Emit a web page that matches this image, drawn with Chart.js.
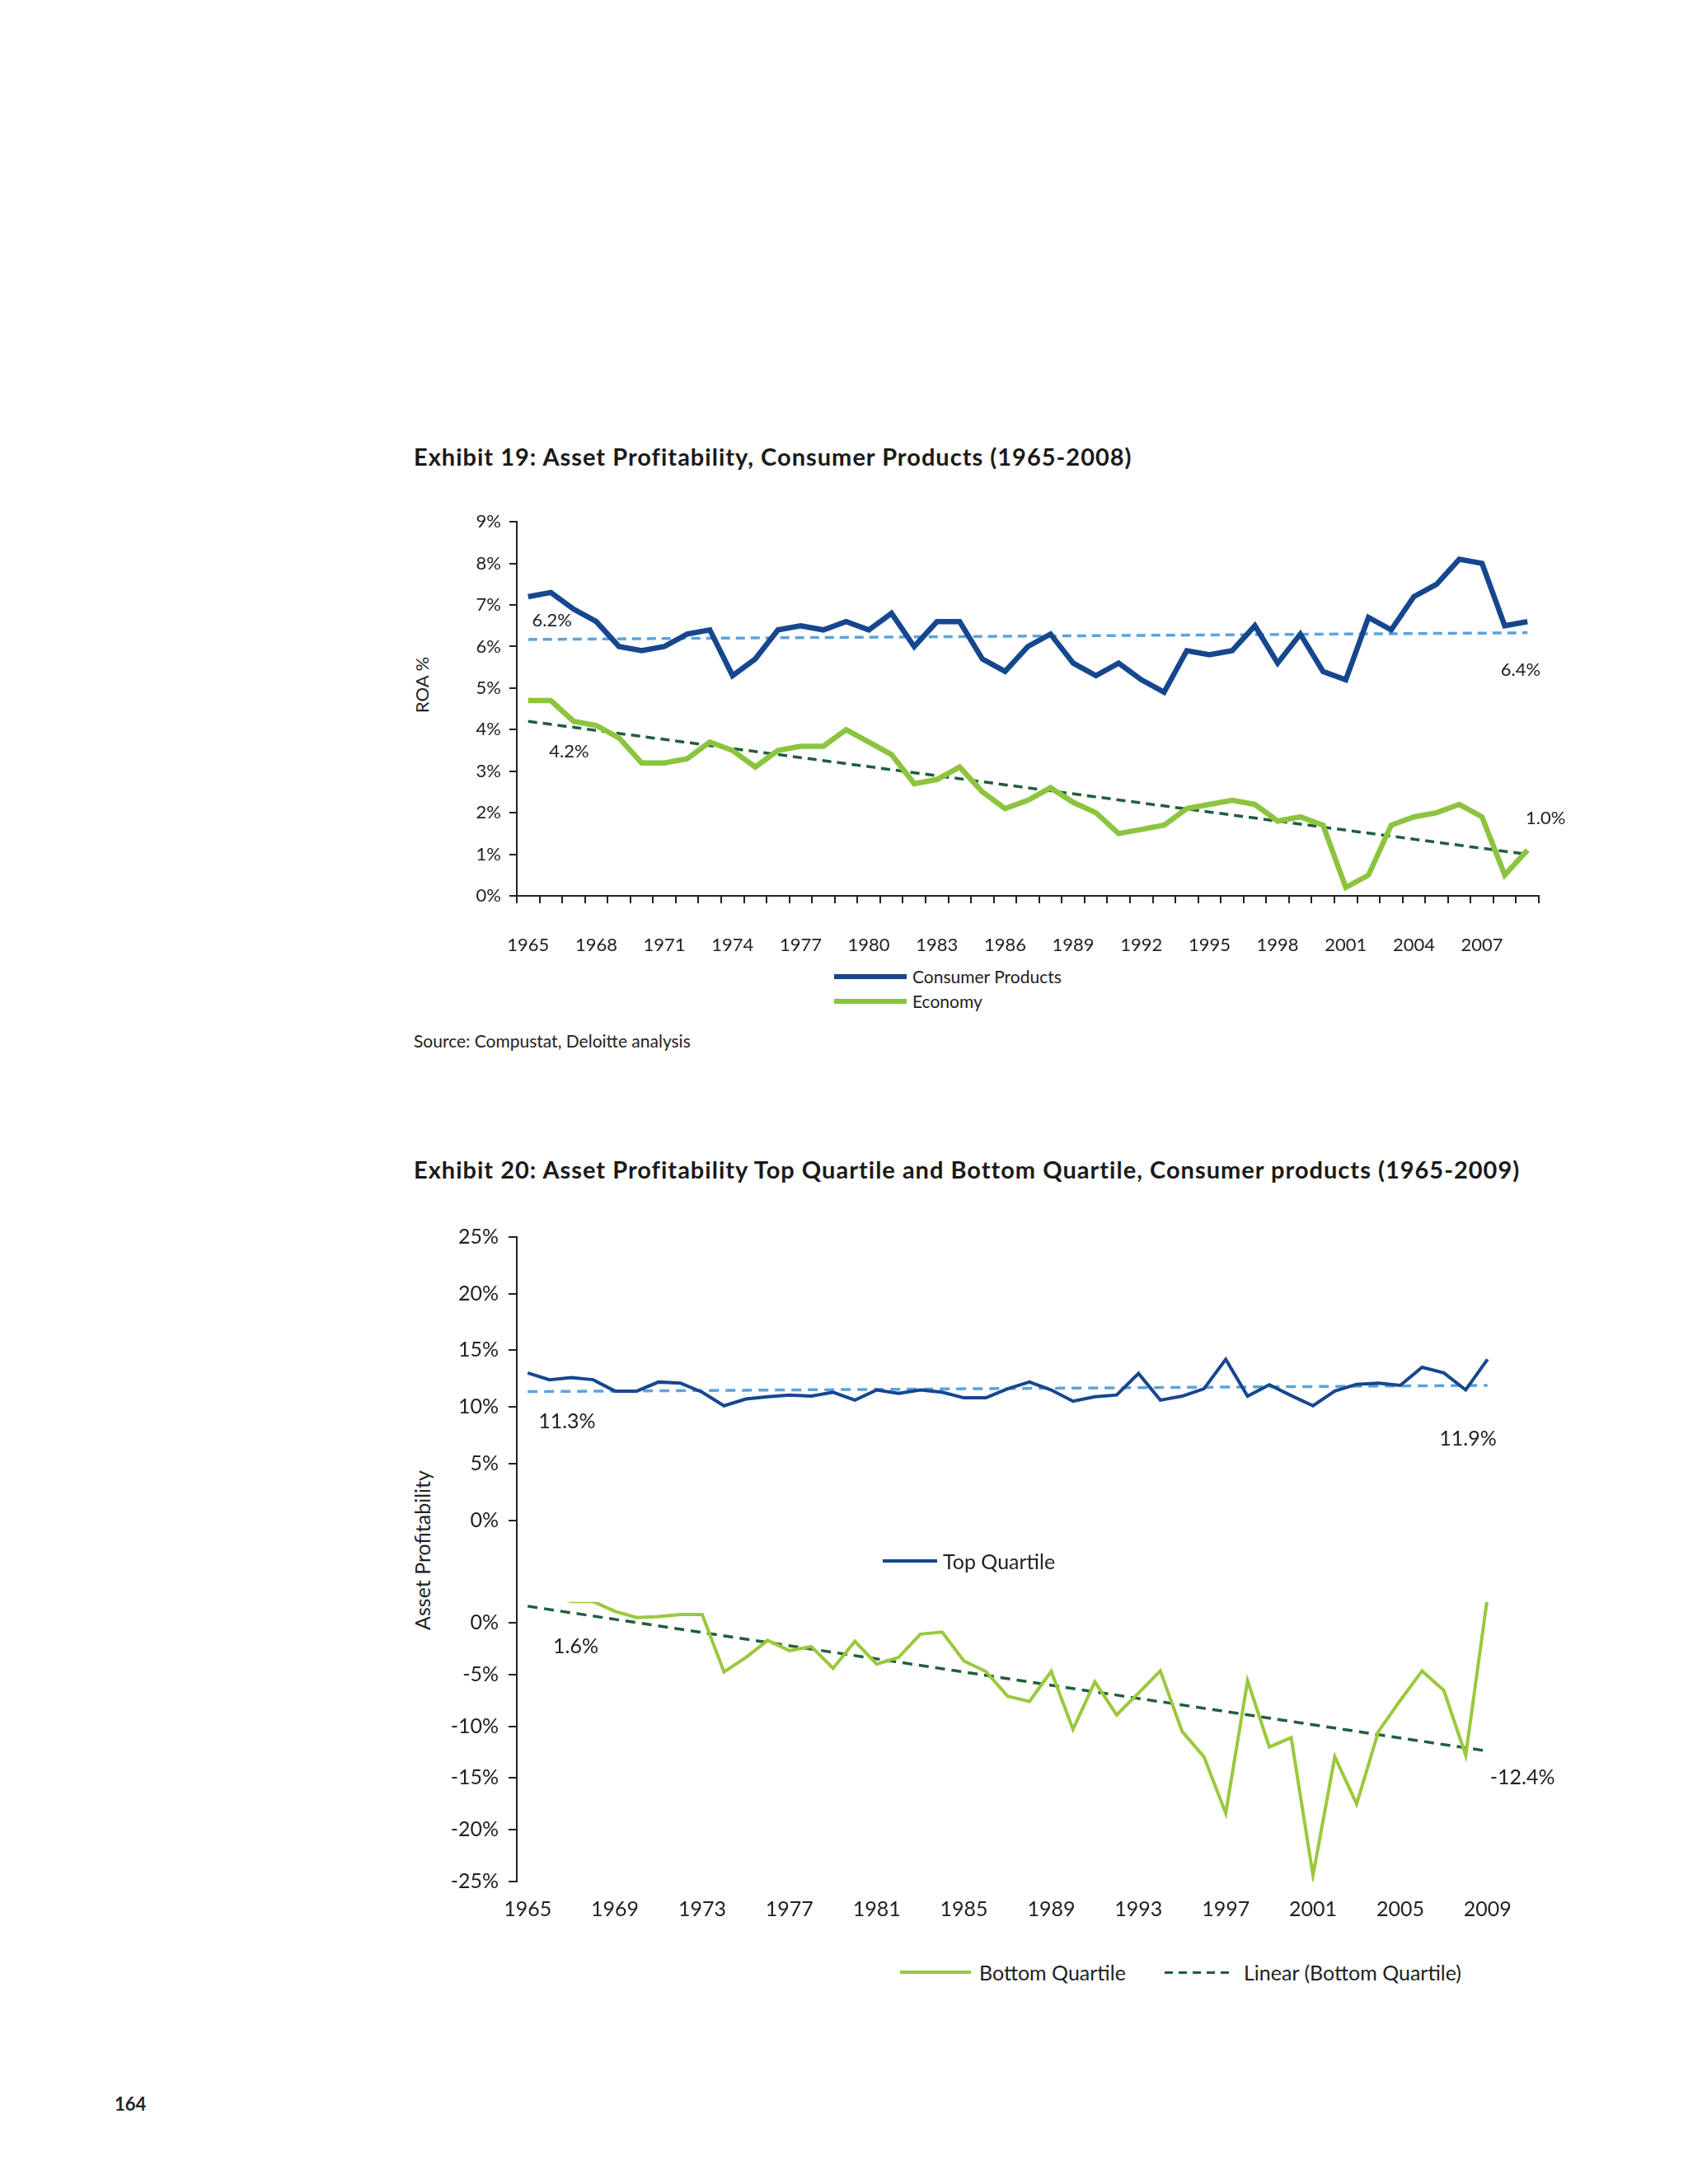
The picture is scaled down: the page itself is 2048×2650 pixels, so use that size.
<!DOCTYPE html>
<html lang="en">
<head>
<meta charset="UTF-8">
<title>Asset Profitability, Consumer Products</title>
<script src="https://cdn.jsdelivr.net/npm/chart.js"></script>
<style>
  body {
    margin: 0;
    width: 2048px;
    height: 2650px;
    position: relative;
    background: #fff;
    font-family: Lato, 'Open Sans', sans-serif;
    color: #222;
  }
  .txt { position: absolute; white-space: nowrap; line-height: 1; }
  .title { font-weight: bold; font-size: 29px; letter-spacing: 1px; color: #1a1a1a; }
  .ytitle { transform: translate(-50%, -50%) rotate(-90deg); }
  .box { position: absolute; }
  .key { position: absolute; }
</style>
</head>
<body>
  <div class="txt title" style="left:502px; top:539px;">Exhibit 19: Asset Profitability, Consumer Products (1965-2008)</div>
  <div class="txt ytitle" style="left:512px; top:831px; font-size:22px;">ROA %</div>
  <div class="box" style="left:527px; top:610px; width:1400px; height:557px;"><canvas id="chart19"></canvas></div>

  <!-- legend exhibit 19 -->
  <div class="key" style="left:1012px; top:1182px; width:88px; height:6px; background:#16478e;"></div>
  <div class="txt" style="left:1107px; top:1174px; font-size:21px;">Consumer Products</div>
  <div class="key" style="left:1012px; top:1212px; width:88px; height:6px; background:#8cc43f;"></div>
  <div class="txt" style="left:1107px; top:1204px; font-size:21px;">Economy</div>

  <div class="txt" style="left:502px; top:1252px; font-size:21px;">Source: Compustat, Deloitte analysis</div>

  <div class="txt title" style="left:502px; top:1404px;">Exhibit 20: Asset Profitability Top Quartile and Bottom Quartile, Consumer products (1965-2009)</div>
  <div class="txt ytitle" style="left:512px; top:1881px; font-size:25px;">Asset Profitability</div>
  <div class="box" style="left:527px; top:1474px; width:1381px; height:869px;"><canvas id="chart20"></canvas></div>

  <!-- legends exhibit 20 -->
  <div class="key" style="left:1071px; top:1892px; width:66px; height:4px; background:#16478e;"></div>
  <div class="txt" style="left:1144px; top:1882px; font-size:25px;">Top Quartile</div>
  <div class="key" style="left:1092px; top:2391px; width:86px; height:4px; background:#9bc83c;"></div>
  <div class="txt" style="left:1188px; top:2381px; font-size:25px;">Bottom Quartile</div>
  <div class="key" style="left:1413px; top:2392px; width:78px; height:3px; background:repeating-linear-gradient(90deg, #215e3c 0 10px, transparent 10px 17px);"></div>
  <div class="txt" style="left:1509px; top:2381px; font-size:25px;">Linear (Bottom Quartile)</div>

  <div class="txt" style="left:139px; top:2542px; font-size:22px; font-weight:bold;">164</div>

<script>
// years on the x axis (both exhibits)
const years = ['1965','1966','1967','1968','1969','1970','1971','1972','1973','1974',
               '1975','1976','1977','1978','1979','1980','1981','1982','1983','1984',
               '1985','1986','1987','1988','1989','1990','1991','1992','1993','1994',
               '1995','1996','1997','1998','1999','2000','2001','2002','2003','2004',
               '2005','2006','2007','2008','2009'];
const xLabels19 = ['1965','1968','1971','1974','1977','1980','1983','1986','1989','1992','1995','1998','2001','2004','2007'];
const xLabels20 = ['1965','1969','1973','1977','1981','1985','1989','1993','1997','2001','2005','2009'];

// Exhibit 19 - ROA %
const consumerProducts = [7.2,7.3,6.9,6.6,6.0,5.9,6.0,6.3,6.4,5.3,
                          5.7,6.4,6.5,6.4,6.6,6.4,6.8,6.0,6.6,6.6,
                          5.7,5.4,6.0,6.3,5.6,5.3,5.6,5.2,4.9,5.9,
                          5.8,5.9,6.5,5.6,6.3,5.4,5.2,6.7,6.4,7.2,
                          7.5,8.1,8.0,6.5,6.6];
const economy = [4.7,4.7,4.2,4.1,3.8,3.2,3.2,3.3,3.7,3.5,
                 3.1,3.5,3.6,3.6,4.0,3.7,3.4,2.7,2.8,3.1,
                 2.5,2.1,2.3,2.6,2.25,2.0,1.5,1.6,1.7,2.1,
                 2.2,2.3,2.2,1.8,1.9,1.7,0.2,0.5,1.7,1.9,
                 2.0,2.2,1.9,0.5,1.1];
const cpTrend = [6.17, 6.33];   // linear trend, first and last year
const ecoTrend = [4.2, 1.0];

// Exhibit 20 - asset profitability by quartile
const topQuartile = [13.0,12.4,12.6,12.4,11.4,11.4,12.2,12.1,11.3,10.1,
                     10.7,10.9,11.05,10.95,11.3,10.6,11.5,11.2,11.5,11.3,
                     10.8,10.8,11.6,12.2,11.5,10.5,10.9,11.05,12.95,10.6,
                     10.95,11.6,14.2,10.95,11.95,11.0,10.1,11.4,12.0,12.1,
                     11.9,13.5,13.0,11.5,14.2];
const bottomQuartile = [2.9,2.6,2.05,2.05,1.1,0.5,0.6,0.8,0.8,-4.75,
                        -3.35,-1.7,-2.7,-2.3,-4.4,-1.8,-4.0,-3.35,-1.1,-0.9,
                        -3.7,-4.7,-7.1,-7.6,-4.7,-10.3,-5.7,-8.9,-6.8,-4.65,
                        -10.5,-12.95,-18.4,-5.6,-12.0,-11.1,-24.4,-12.95,-17.5,-10.5,
                        -7.5,-4.65,-6.55,-12.8,2.5];
const topTrend = [11.35, 11.9];
const bottomTrend = [1.6, -12.4];

const BLUE = '#16478e', GREEN = '#8cc43f', GREEN2 = '#9bc83c', LIGHTBLUE = '#5ba3dc', DKGREEN = '#215e3c';
const INK = '#222';

// two-point trend line across the whole category axis
function trendSeries(pair) {
    return years.map((y, i) => i === 0 ? pair[0] : (i === years.length - 1 ? pair[1] : null));
}

// writes the trend values next to the lines, placed through the scales
const trendLabels = {
    id: 'trendLabels',
    afterDatasetsDraw(chart, args, opts) {
        const ctx = chart.ctx;
        ctx.save();
        ctx.font = opts.font;
        ctx.fillStyle = INK;
        ctx.textAlign = 'center';
        ctx.textBaseline = 'middle';
        opts.items.forEach(it => {
            const x = chart.scales.x.getPixelForValue(it.at);
            const y = chart.scales[it.axis].getPixelForValue(it.value);
            ctx.fillText(it.text, x, y);
        });
        ctx.restore();
    }
};

Chart.defaults.font.family = "Lato, 'Open Sans', sans-serif";
Chart.defaults.color = INK;

new Chart(document.getElementById('chart19'), {
    type: 'line',
    data: {
        labels: years,
        datasets: [
            { label: 'Consumer Products', data: consumerProducts, borderColor: BLUE, borderWidth: 6.5, pointRadius: 0, tension: 0 },
            { label: 'Economy', data: economy, borderColor: GREEN, borderWidth: 6.5, pointRadius: 0, tension: 0 },
            { label: 'trend cp', data: trendSeries(cpTrend), borderColor: LIGHTBLUE, borderWidth: 3.5, borderDash: [11, 7], pointRadius: 0, spanGaps: true },
            { label: 'trend eco', data: trendSeries(ecoTrend), borderColor: DKGREEN, borderWidth: 3.5, borderDash: [11, 7], pointRadius: 0, spanGaps: true }
        ]
    },
    options: {
        responsive: true,
        maintainAspectRatio: false,
        animation: false,
        layout: { padding: { top: 20, right: 60, left: 0, bottom: 0 } },
        plugins: {
            legend: { display: false },
            tooltip: { enabled: false },
            trendLabels: {
                font: "22px Lato, 'Open Sans', sans-serif",
                items: [
                    { text: '6.2%', at: 1.05, value: 6.63, axis: 'y' },
                    { text: '4.2%', at: 1.8, value: 3.47, axis: 'y' },
                    { text: '6.4%', at: 43.7, value: 5.43, axis: 'y' },
                    { text: '1.0%', at: 44.8, value: 1.87, axis: 'y' }
                ]
            }
        },
        scales: {
            x: {
                offset: true,
                grid: { offset: true, drawOnChartArea: false, drawTicks: true, tickLength: 9, color: INK, lineWidth: 2 },
                border: { display: true, color: INK, width: 2 },
                ticks: {
                    autoSkip: false, maxRotation: 0, padding: 8,
                    font: { size: 22, lineHeight: 3.9 },
                    callback: function(val) {
                        const l = this.getLabelForValue(val);
                        return xLabels19.includes(l) ? l : '';
                    }
                },
                afterFit: s => { s.height = 80; }
            },
            y: {
                min: 0, max: 9,
                grid: { drawOnChartArea: false, tickLength: 9, color: INK, lineWidth: 2 },
                border: { display: true, color: INK, width: 2 },
                ticks: { stepSize: 1, padding: 10, font: { size: 22 }, callback: v => v + '%' },
                afterFit: s => { s.width = 100; }
            }
        }
    },
    plugins: [trendLabels]
});

new Chart(document.getElementById('chart20'), {
    type: 'line',
    data: {
        labels: years,
        datasets: [
            { label: 'Top Quartile', data: topQuartile, yAxisID: 'yT', borderColor: BLUE, borderWidth: 4, pointRadius: 0, tension: 0 },
            { label: 'Linear (Top Quartile)', data: trendSeries(topTrend), yAxisID: 'yT', borderColor: LIGHTBLUE, borderWidth: 3.5, borderDash: [12, 8], pointRadius: 0, spanGaps: true },
            { label: 'Bottom Quartile', data: bottomQuartile, yAxisID: 'yB', borderColor: GREEN2, borderWidth: 4, pointRadius: 0, tension: 0 },
            { label: 'Linear (Bottom Quartile)', data: trendSeries(bottomTrend), yAxisID: 'yB', borderColor: DKGREEN, borderWidth: 3.5, borderDash: [12, 8], pointRadius: 0, spanGaps: true }
        ]
    },
    options: {
        responsive: true,
        maintainAspectRatio: false,
        animation: false,
        layout: { padding: { top: 20, right: 90, left: 0, bottom: 0 } },
        plugins: {
            legend: { display: false },
            tooltip: { enabled: false },
            trendLabels: {
                font: "25px Lato, 'Open Sans', sans-serif",
                items: [
                    { text: '11.3%', at: 1.8, value: 8.7, axis: 'yT' },
                    { text: '11.9%', at: 43.1, value: 7.2, axis: 'yT' },
                    { text: '1.6%', at: 2.2, value: -2.3, axis: 'yB' },
                    { text: '-12.4%', at: 45.6, value: -15.0, axis: 'yB' }
                ]
            }
        },
        scales: {
            x: {
                offset: true,
                grid: { display: false, drawTicks: false, tickLength: 0 },
                border: { display: false },
                ticks: {
                    autoSkip: false, maxRotation: 0, padding: 8,
                    font: { size: 25, lineHeight: 2.1 },
                    callback: function(val) {
                        const l = this.getLabelForValue(val);
                        return xLabels20.includes(l) ? l : '';
                    }
                },
                afterFit: s => { s.height = 60; }
            },
            yT: {
                position: 'left', stack: 'q', stackWeight: 444, weight: 2,
                min: -7.23, max: 25,
                grid: { drawOnChartArea: false, tickLength: 10, color: INK, lineWidth: 2 },
                border: { display: true, color: INK, width: 2 },
                ticks: { stepSize: 5, includeBounds: false, padding: 12, font: { size: 25 }, callback: v => v + '%' },
                afterBuildTicks: s => { s.ticks = s.ticks.filter(t => t.value >= 0); },
                afterFit: s => { s.width = 100; }
            },
            yB: {
                position: 'left', stack: 'q', stackWeight: 340, weight: 1,
                min: -25, max: 2,
                grid: { drawOnChartArea: false, tickLength: 10, color: INK, lineWidth: 2 },
                border: { display: true, color: INK, width: 2 },
                ticks: { stepSize: 5, includeBounds: false, padding: 12, font: { size: 25 }, callback: v => v + '%' },
                afterBuildTicks: s => { s.ticks = s.ticks.filter(t => t.value <= 0); },
                afterFit: s => { s.width = 100; }
            }
        }
    },
    plugins: [trendLabels]
});
</script>
</body>
</html>
